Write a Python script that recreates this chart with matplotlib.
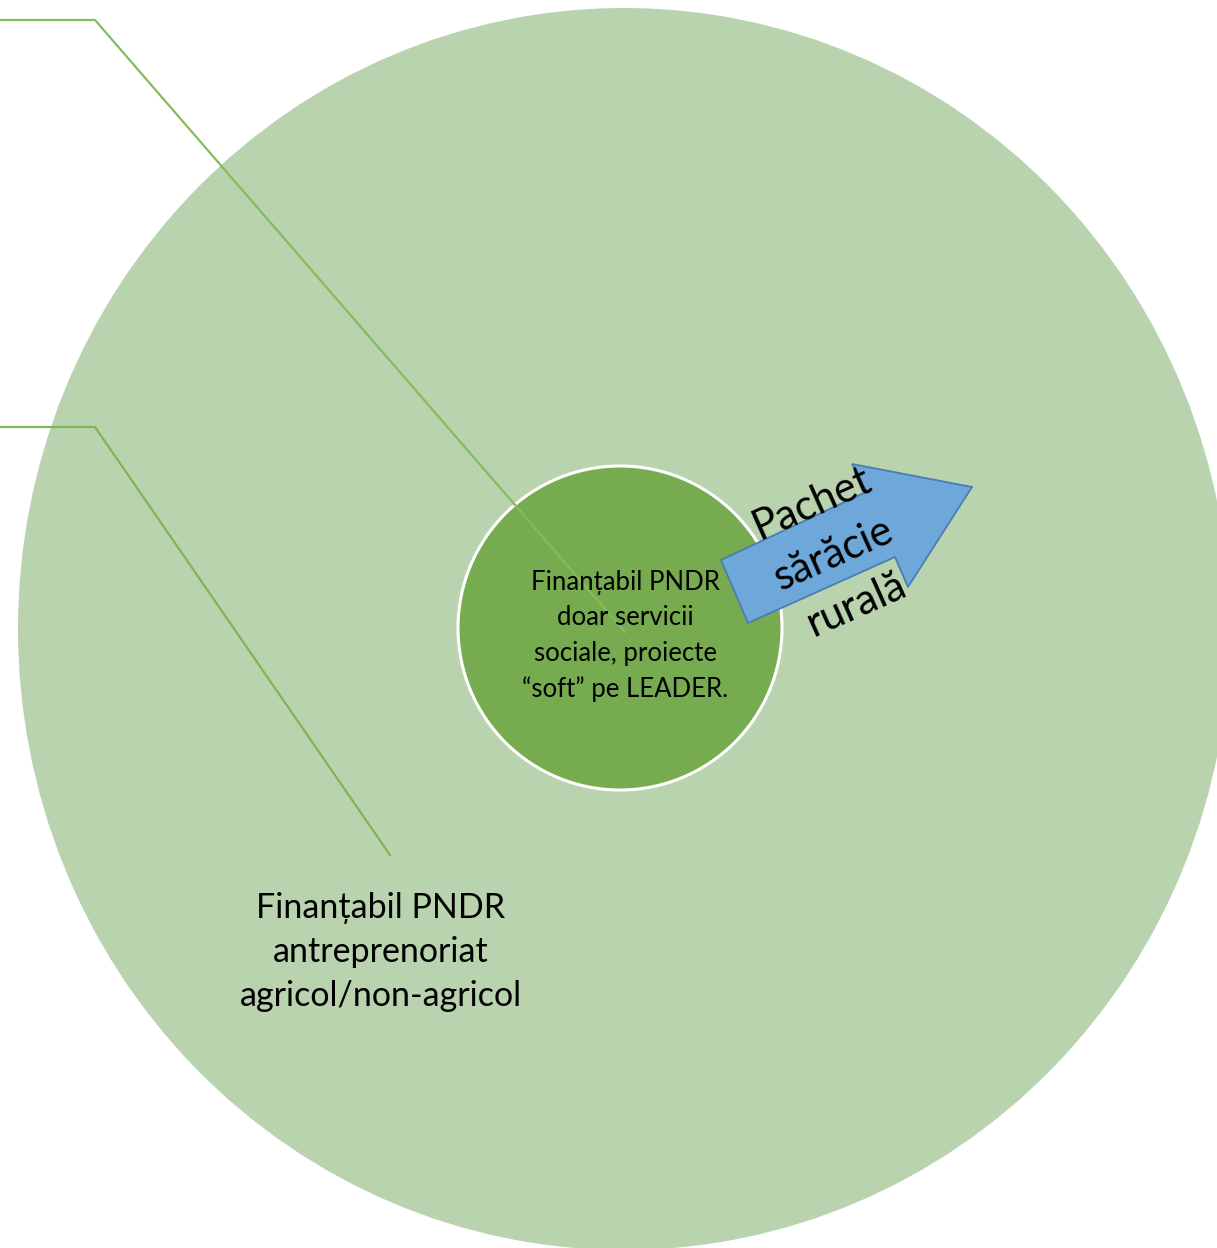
import matplotlib
matplotlib.use("Agg")
import matplotlib.pyplot as plt
from matplotlib.patches import Circle, Ellipse, Polygon

plt.rcParams['font.family'] = ['Lato', 'DejaVu Sans']

W, H = 1217, 1248

# Diagram elements (pixel coordinates of the canvas)
outer_center = (624, 629)
outer_width = 1212
outer_height = 1242
inner_center = (620, 628)
inner_radius = 162

callout_top_x = [0, 95, 625]
callout_top_y = [20, 20, 632]
callout_low_x = [0, 95, 390]
callout_low_y = [427, 427, 855]

arrow_x = [721, 866, 852, 972, 908, 895, 748]
arrow_y = [560, 492, 464, 487, 587, 557, 623]

inner_label = "Finanțabil PNDR\ndoar servicii\nsociale, proiecte\n“soft” pe LEADER."
outer_label = "Finanțabil PNDR\nantreprenoriat\nagricol/non-agricol"
arrow_label = "Pachet\nsărăcie\nrurală"

fig = plt.figure(figsize=(W / 100, H / 100), dpi=100)
ax = fig.add_axes([0, 0, 1, 1])
ax.set_xlim(0, W)
ax.set_ylim(H, 0)
ax.set_aspect('equal')
ax.axis('off')

ax.add_patch(Ellipse(outer_center, outer_width, outer_height, facecolor='#B9D3AF', edgecolor='none', zorder=1))
ax.add_patch(Circle(inner_center, inner_radius, facecolor='#77AB4F', edgecolor='white', linewidth=2.2, zorder=2))

ax.plot(callout_low_x, callout_low_y, color='#7DB654', linewidth=1.6, zorder=3, solid_joinstyle='miter')
ax.plot(callout_top_x, callout_top_y, color='#84BC5C', linewidth=1.6, zorder=3, solid_joinstyle='miter')

ax.add_patch(Polygon(list(zip(arrow_x, arrow_y)), closed=True, facecolor='#6EA8DA',
                     edgecolor='#4A7DB0', linewidth=1.3, zorder=4))

ax.text(625, 636, inner_label, ha='center', va='center', fontsize=18.5,
        linespacing=1.52, color='black', zorder=5)
ax.text(381, 952, outer_label, ha='center', va='center', fontsize=24.5,
        linespacing=1.47, color='black', zorder=5)
ax.text(834, 554, arrow_label, ha='center', va='center', fontsize=30, rotation=24,
        rotation_mode='anchor', linespacing=1.55, color='black', zorder=5)

fig.savefig('out.png', dpi=100)
